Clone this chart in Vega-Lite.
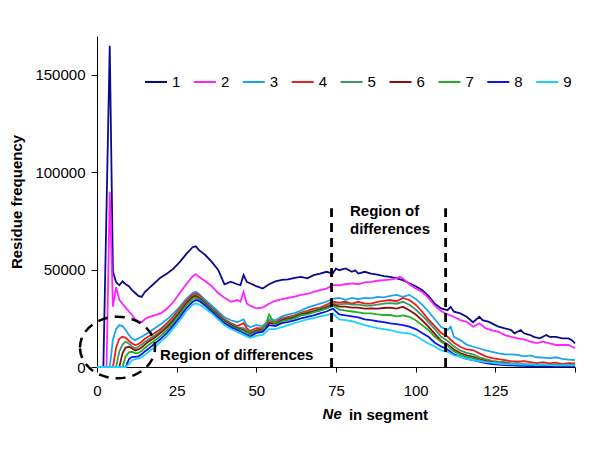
{
  "$schema": "https://vega.github.io/schema/vega-lite/v6.json",
  "width": 478,
  "height": 331,
  "autosize": {"type": "none"},
  "padding": {"left": 97, "top": 36, "right": 25, "bottom": 83},
  "background": "white",
  "config": {
    "view": {"stroke": null},
    "font": "Liberation Sans",
    "axis": {
      "grid": false,
      "domainColor": "black",
      "tickColor": "black",
      "labelColor": "black",
      "titleColor": "black",
      "labelFont": "Liberation Sans",
      "titleFont": "Liberation Sans",
      "labelFontSize": 15,
      "titleFontSize": 15,
      "titleFontWeight": "bold",
      "domainWidth": 1,
      "tickWidth": 1
    },
    "legend": {
      "labelFont": "Liberation Sans",
      "labelFontSize": 15,
      "labelColor": "black"
    }
  },
  "layer": [
    {
      "data": {
        "values": [
          {"s":"1","x":0,"y":0},{"s":"1","x":2,"y":0},{"s":"1","x":4,"y":165000},{"s":"1","x":5,"y":49000},{"s":"1","x":6,"y":43500},{"s":"1","x":7,"y":42000},{"s":"1","x":8,"y":44000},{"s":"1","x":9,"y":42500},{"s":"1","x":10,"y":41500},{"s":"1","x":11,"y":39500},{"s":"1","x":12,"y":38000},{"s":"1","x":13,"y":36500},{"s":"1","x":14,"y":36000},{"s":"1","x":15,"y":38500},{"s":"1","x":16,"y":40000},{"s":"1","x":18,"y":43000},{"s":"1","x":20,"y":46000},{"s":"1","x":22,"y":48000},{"s":"1","x":24,"y":50500},{"s":"1","x":26,"y":54000},{"s":"1","x":28,"y":58000},{"s":"1","x":30,"y":61500},{"s":"1","x":31,"y":62000},{"s":"1","x":32,"y":60000},{"s":"1","x":34,"y":57500},{"s":"1","x":36,"y":54000},{"s":"1","x":38,"y":50000},{"s":"1","x":40,"y":42500},{"s":"1","x":42,"y":43800},{"s":"1","x":44,"y":42500},{"s":"1","x":45,"y":42000},{"s":"1","x":46,"y":47200},{"s":"1","x":47,"y":43700},{"s":"1","x":48,"y":43000},{"s":"1","x":50,"y":41500},{"s":"1","x":52,"y":40300},{"s":"1","x":54,"y":42500},{"s":"1","x":56,"y":44000},{"s":"1","x":58,"y":44700},{"s":"1","x":60,"y":45000},{"s":"1","x":62,"y":45800},{"s":"1","x":64,"y":46300},{"s":"1","x":66,"y":45500},{"s":"1","x":68,"y":47200},{"s":"1","x":70,"y":48000},{"s":"1","x":72,"y":48900},{"s":"1","x":74,"y":48000},{"s":"1","x":75,"y":50600},{"s":"1","x":76,"y":49700},{"s":"1","x":78,"y":50600},{"s":"1","x":80,"y":48900},{"s":"1","x":81,"y":49700},{"s":"1","x":82,"y":48000},{"s":"1","x":84,"y":48900},{"s":"1","x":86,"y":48000},{"s":"1","x":88,"y":47500},{"s":"1","x":90,"y":46700},{"s":"1","x":92,"y":46300},{"s":"1","x":94,"y":45500},{"s":"1","x":96,"y":44600},{"s":"1","x":98,"y":43000},{"s":"1","x":100,"y":41500},{"s":"1","x":102,"y":39500},{"s":"1","x":104,"y":36500},{"s":"1","x":106,"y":32500},{"s":"1","x":108,"y":30100},{"s":"1","x":110,"y":29200},{"s":"1","x":111,"y":30900},{"s":"1","x":112,"y":28400},{"s":"1","x":114,"y":27500},{"s":"1","x":116,"y":25800},{"s":"1","x":118,"y":23000},{"s":"1","x":120,"y":25800},{"s":"1","x":121,"y":24100},{"s":"1","x":123,"y":23200},{"s":"1","x":125,"y":21500},{"s":"1","x":126,"y":20700},{"s":"1","x":128,"y":19800},{"s":"1","x":130,"y":19000},{"s":"1","x":131,"y":17300},{"s":"1","x":133,"y":19000},{"s":"1","x":134,"y":17300},{"s":"1","x":136,"y":16400},{"s":"1","x":137,"y":15500},{"s":"1","x":139,"y":14700},{"s":"1","x":141,"y":16400},{"s":"1","x":142,"y":15500},{"s":"1","x":144,"y":15500},{"s":"1","x":146,"y":14700},{"s":"1","x":148,"y":14700},{"s":"1","x":149,"y":13800},{"s":"1","x":150,"y":12100},
          {"s":"2","x":0,"y":0},{"s":"2","x":3,"y":0},{"s":"2","x":4,"y":90000},{"s":"2","x":5,"y":31000},{"s":"2","x":6,"y":41000},{"s":"2","x":7,"y":34500},{"s":"2","x":8,"y":32500},{"s":"2","x":9,"y":30500},{"s":"2","x":10,"y":28500},{"s":"2","x":11,"y":26700},{"s":"2","x":12,"y":24500},{"s":"2","x":13,"y":23500},{"s":"2","x":14,"y":23000},{"s":"2","x":15,"y":24500},{"s":"2","x":16,"y":25500},{"s":"2","x":18,"y":26500},{"s":"2","x":20,"y":27500},{"s":"2","x":22,"y":30000},{"s":"2","x":24,"y":33500},{"s":"2","x":26,"y":38000},{"s":"2","x":28,"y":42500},{"s":"2","x":30,"y":46500},{"s":"2","x":31,"y":47700},{"s":"2","x":32,"y":46300},{"s":"2","x":34,"y":44000},{"s":"2","x":36,"y":41500},{"s":"2","x":38,"y":38000},{"s":"2","x":40,"y":35500},{"s":"2","x":42,"y":33500},{"s":"2","x":44,"y":34400},{"s":"2","x":45,"y":33500},{"s":"2","x":46,"y":38600},{"s":"2","x":47,"y":32600},{"s":"2","x":48,"y":31500},{"s":"2","x":50,"y":30100},{"s":"2","x":52,"y":30500},{"s":"2","x":54,"y":32500},{"s":"2","x":56,"y":34000},{"s":"2","x":58,"y":34800},{"s":"2","x":60,"y":35500},{"s":"2","x":62,"y":36200},{"s":"2","x":64,"y":37000},{"s":"2","x":66,"y":37500},{"s":"2","x":68,"y":38600},{"s":"2","x":70,"y":39500},{"s":"2","x":72,"y":40300},{"s":"2","x":74,"y":42000},{"s":"2","x":76,"y":42000},{"s":"2","x":78,"y":42500},{"s":"2","x":80,"y":42900},{"s":"2","x":82,"y":42500},{"s":"2","x":84,"y":43500},{"s":"2","x":86,"y":43700},{"s":"2","x":88,"y":44300},{"s":"2","x":90,"y":44600},{"s":"2","x":92,"y":44900},{"s":"2","x":94,"y":45500},{"s":"2","x":95,"y":46300},{"s":"2","x":96,"y":45500},{"s":"2","x":98,"y":42500},{"s":"2","x":100,"y":40300},{"s":"2","x":102,"y":38600},{"s":"2","x":104,"y":35500},{"s":"2","x":106,"y":31500},{"s":"2","x":108,"y":28800},{"s":"2","x":110,"y":27000},{"s":"2","x":112,"y":25800},{"s":"2","x":114,"y":24100},{"s":"2","x":116,"y":23200},{"s":"2","x":118,"y":20700},{"s":"2","x":120,"y":22400},{"s":"2","x":122,"y":19800},{"s":"2","x":124,"y":18800},{"s":"2","x":126,"y":18100},{"s":"2","x":128,"y":16400},{"s":"2","x":130,"y":15500},{"s":"2","x":132,"y":14700},{"s":"2","x":134,"y":14200},{"s":"2","x":136,"y":13000},{"s":"2","x":138,"y":12300},{"s":"2","x":140,"y":13000},{"s":"2","x":142,"y":12100},{"s":"2","x":144,"y":11300},{"s":"2","x":146,"y":11300},{"s":"2","x":148,"y":11300},{"s":"2","x":150,"y":9600},
          {"s":"3","x":0,"y":0},{"s":"3","x":4,"y":0},{"s":"3","x":5,"y":14000},{"s":"3","x":6,"y":19500},{"s":"3","x":7,"y":21500},{"s":"3","x":8,"y":21000},{"s":"3","x":9,"y":19000},{"s":"3","x":10,"y":16500},{"s":"3","x":11,"y":14500},{"s":"3","x":12,"y":13800},{"s":"3","x":13,"y":14700},{"s":"3","x":14,"y":15500},{"s":"3","x":15,"y":16500},{"s":"3","x":16,"y":17500},{"s":"3","x":18,"y":19800},{"s":"3","x":20,"y":22000},{"s":"3","x":22,"y":24500},{"s":"3","x":24,"y":27500},{"s":"3","x":26,"y":31000},{"s":"3","x":28,"y":35000},{"s":"3","x":30,"y":38000},{"s":"3","x":31,"y":38600},{"s":"3","x":32,"y":37500},{"s":"3","x":34,"y":34500},{"s":"3","x":36,"y":31500},{"s":"3","x":38,"y":28500},{"s":"3","x":40,"y":25500},{"s":"3","x":42,"y":24000},{"s":"3","x":44,"y":23000},{"s":"3","x":46,"y":24500},{"s":"3","x":47,"y":21500},{"s":"3","x":48,"y":20500},{"s":"3","x":50,"y":21500},{"s":"3","x":52,"y":21000},{"s":"3","x":54,"y":24500},{"s":"3","x":56,"y":24000},{"s":"3","x":58,"y":26000},{"s":"3","x":60,"y":27000},{"s":"3","x":62,"y":27700},{"s":"3","x":64,"y":29000},{"s":"3","x":66,"y":30500},{"s":"3","x":68,"y":31500},{"s":"3","x":70,"y":32500},{"s":"3","x":72,"y":33500},{"s":"3","x":74,"y":35000},{"s":"3","x":76,"y":35500},{"s":"3","x":78,"y":34500},{"s":"3","x":80,"y":35500},{"s":"3","x":82,"y":34800},{"s":"3","x":84,"y":35500},{"s":"3","x":86,"y":35200},{"s":"3","x":88,"y":36000},{"s":"3","x":90,"y":35800},{"s":"3","x":92,"y":36500},{"s":"3","x":94,"y":37000},{"s":"3","x":96,"y":36000},{"s":"3","x":98,"y":37000},{"s":"3","x":100,"y":35000},{"s":"3","x":102,"y":32000},{"s":"3","x":104,"y":28500},{"s":"3","x":106,"y":24500},{"s":"3","x":108,"y":20500},{"s":"3","x":110,"y":19000},{"s":"3","x":111,"y":20700},{"s":"3","x":112,"y":15500},{"s":"3","x":114,"y":13800},{"s":"3","x":116,"y":11500},{"s":"3","x":118,"y":10400},{"s":"3","x":120,"y":9500},{"s":"3","x":122,"y":8500},{"s":"3","x":124,"y":7800},{"s":"3","x":126,"y":7000},{"s":"3","x":128,"y":6500},{"s":"3","x":130,"y":6500},{"s":"3","x":132,"y":6200},{"s":"3","x":134,"y":5500},{"s":"3","x":136,"y":6000},{"s":"3","x":138,"y":5000},{"s":"3","x":140,"y":4800},{"s":"3","x":142,"y":4400},{"s":"3","x":144,"y":5000},{"s":"3","x":146,"y":4200},{"s":"3","x":148,"y":3800},{"s":"3","x":150,"y":3600},
          {"s":"4","x":0,"y":0},{"s":"4","x":5,"y":0},{"s":"4","x":6,"y":10000},{"s":"4","x":7,"y":14500},{"s":"4","x":8,"y":15500},{"s":"4","x":9,"y":15000},{"s":"4","x":10,"y":13500},{"s":"4","x":11,"y":12100},{"s":"4","x":12,"y":11300},{"s":"4","x":13,"y":11800},{"s":"4","x":14,"y":13000},{"s":"4","x":15,"y":14500},{"s":"4","x":16,"y":15500},{"s":"4","x":18,"y":17300},{"s":"4","x":20,"y":19500},{"s":"4","x":22,"y":22500},{"s":"4","x":24,"y":26000},{"s":"4","x":26,"y":30000},{"s":"4","x":28,"y":34000},{"s":"4","x":30,"y":37200},{"s":"4","x":31,"y":37800},{"s":"4","x":32,"y":37000},{"s":"4","x":34,"y":33500},{"s":"4","x":36,"y":30500},{"s":"4","x":38,"y":27500},{"s":"4","x":40,"y":24500},{"s":"4","x":42,"y":22500},{"s":"4","x":44,"y":21000},{"s":"4","x":46,"y":22500},{"s":"4","x":47,"y":20000},{"s":"4","x":48,"y":18500},{"s":"4","x":50,"y":20000},{"s":"4","x":52,"y":20000},{"s":"4","x":54,"y":23500},{"s":"4","x":56,"y":23000},{"s":"4","x":58,"y":25000},{"s":"4","x":60,"y":25800},{"s":"4","x":62,"y":26500},{"s":"4","x":64,"y":28000},{"s":"4","x":66,"y":28800},{"s":"4","x":68,"y":30000},{"s":"4","x":70,"y":30500},{"s":"4","x":72,"y":32000},{"s":"4","x":74,"y":33500},{"s":"4","x":76,"y":33000},{"s":"4","x":78,"y":33500},{"s":"4","x":80,"y":32500},{"s":"4","x":82,"y":33500},{"s":"4","x":84,"y":32600},{"s":"4","x":86,"y":32600},{"s":"4","x":88,"y":33500},{"s":"4","x":90,"y":34000},{"s":"4","x":92,"y":34400},{"s":"4","x":94,"y":33800},{"s":"4","x":96,"y":35500},{"s":"4","x":98,"y":34400},{"s":"4","x":100,"y":32000},{"s":"4","x":102,"y":28500},{"s":"4","x":104,"y":24500},{"s":"4","x":106,"y":21000},{"s":"4","x":108,"y":17500},{"s":"4","x":110,"y":15500},{"s":"4","x":112,"y":12500},{"s":"4","x":114,"y":10400},{"s":"4","x":116,"y":9000},{"s":"4","x":118,"y":8700},{"s":"4","x":120,"y":7000},{"s":"4","x":122,"y":5500},{"s":"4","x":124,"y":4600},{"s":"4","x":126,"y":4000},{"s":"4","x":128,"y":3500},{"s":"4","x":130,"y":3000},{"s":"4","x":132,"y":2700},{"s":"4","x":134,"y":3000},{"s":"4","x":136,"y":2500},{"s":"4","x":138,"y":2000},{"s":"4","x":140,"y":2500},{"s":"4","x":142,"y":1900},{"s":"4","x":144,"y":2200},{"s":"4","x":146,"y":1500},{"s":"4","x":148,"y":2000},{"s":"4","x":150,"y":1900},
          {"s":"5","x":0,"y":0},{"s":"5","x":6,"y":0},{"s":"5","x":7,"y":8000},{"s":"5","x":8,"y":11500},{"s":"5","x":9,"y":13000},{"s":"5","x":10,"y":12000},{"s":"5","x":11,"y":10500},{"s":"5","x":12,"y":9600},{"s":"5","x":13,"y":10400},{"s":"5","x":14,"y":11500},{"s":"5","x":15,"y":12800},{"s":"5","x":16,"y":14000},{"s":"5","x":18,"y":16000},{"s":"5","x":20,"y":18500},{"s":"5","x":22,"y":21500},{"s":"5","x":24,"y":25000},{"s":"5","x":26,"y":29000},{"s":"5","x":28,"y":33000},{"s":"5","x":30,"y":36500},{"s":"5","x":31,"y":37000},{"s":"5","x":32,"y":36200},{"s":"5","x":34,"y":33000},{"s":"5","x":36,"y":30000},{"s":"5","x":38,"y":27000},{"s":"5","x":40,"y":24000},{"s":"5","x":42,"y":22000},{"s":"5","x":44,"y":20500},{"s":"5","x":46,"y":20000},{"s":"5","x":48,"y":17800},{"s":"5","x":50,"y":19000},{"s":"5","x":52,"y":19500},{"s":"5","x":54,"y":23000},{"s":"5","x":56,"y":22500},{"s":"5","x":58,"y":24500},{"s":"5","x":60,"y":25200},{"s":"5","x":62,"y":26000},{"s":"5","x":64,"y":27500},{"s":"5","x":66,"y":28200},{"s":"5","x":68,"y":29000},{"s":"5","x":70,"y":30000},{"s":"5","x":72,"y":31000},{"s":"5","x":74,"y":32500},{"s":"5","x":76,"y":32000},{"s":"5","x":78,"y":32500},{"s":"5","x":80,"y":32000},{"s":"5","x":82,"y":32000},{"s":"5","x":84,"y":31500},{"s":"5","x":86,"y":31500},{"s":"5","x":88,"y":32000},{"s":"5","x":90,"y":32600},{"s":"5","x":92,"y":32800},{"s":"5","x":94,"y":32500},{"s":"5","x":96,"y":33500},{"s":"5","x":98,"y":32000},{"s":"5","x":100,"y":29500},{"s":"5","x":102,"y":26500},{"s":"5","x":104,"y":23000},{"s":"5","x":106,"y":19500},{"s":"5","x":108,"y":15500},{"s":"5","x":110,"y":13500},{"s":"5","x":112,"y":10500},{"s":"5","x":114,"y":8500},{"s":"5","x":116,"y":7200},{"s":"5","x":118,"y":6500},{"s":"5","x":120,"y":5000},{"s":"5","x":122,"y":4000},{"s":"5","x":124,"y":3200},{"s":"5","x":126,"y":2800},{"s":"5","x":128,"y":2500},{"s":"5","x":130,"y":2000},{"s":"5","x":132,"y":1800},{"s":"5","x":134,"y":1500},{"s":"5","x":136,"y":1500},{"s":"5","x":138,"y":1200},{"s":"5","x":140,"y":1500},{"s":"5","x":142,"y":1000},{"s":"5","x":144,"y":1200},{"s":"5","x":146,"y":900},{"s":"5","x":148,"y":1100},{"s":"5","x":150,"y":1000},
          {"s":"6","x":0,"y":0},{"s":"6","x":7,"y":0},{"s":"6","x":8,"y":7000},{"s":"6","x":9,"y":10000},{"s":"6","x":10,"y":10400},{"s":"6","x":11,"y":9500},{"s":"6","x":12,"y":8500},{"s":"6","x":13,"y":9000},{"s":"6","x":14,"y":10000},{"s":"6","x":15,"y":11500},{"s":"6","x":16,"y":12800},{"s":"6","x":18,"y":15000},{"s":"6","x":20,"y":17500},{"s":"6","x":22,"y":20500},{"s":"6","x":24,"y":24000},{"s":"6","x":26,"y":28000},{"s":"6","x":28,"y":32500},{"s":"6","x":30,"y":36000},{"s":"6","x":31,"y":36500},{"s":"6","x":32,"y":35500},{"s":"6","x":34,"y":32500},{"s":"6","x":36,"y":29500},{"s":"6","x":38,"y":26500},{"s":"6","x":40,"y":23500},{"s":"6","x":42,"y":21500},{"s":"6","x":44,"y":20000},{"s":"6","x":46,"y":19000},{"s":"6","x":48,"y":17000},{"s":"6","x":50,"y":18500},{"s":"6","x":52,"y":19000},{"s":"6","x":54,"y":22500},{"s":"6","x":56,"y":22000},{"s":"6","x":58,"y":24000},{"s":"6","x":60,"y":24800},{"s":"6","x":62,"y":25500},{"s":"6","x":64,"y":27000},{"s":"6","x":66,"y":27700},{"s":"6","x":68,"y":28500},{"s":"6","x":70,"y":29500},{"s":"6","x":72,"y":30500},{"s":"6","x":74,"y":32000},{"s":"6","x":76,"y":31000},{"s":"6","x":78,"y":31000},{"s":"6","x":80,"y":30500},{"s":"6","x":82,"y":30500},{"s":"6","x":84,"y":30000},{"s":"6","x":86,"y":30100},{"s":"6","x":88,"y":30000},{"s":"6","x":90,"y":30300},{"s":"6","x":92,"y":30500},{"s":"6","x":94,"y":30000},{"s":"6","x":96,"y":31000},{"s":"6","x":98,"y":29200},{"s":"6","x":100,"y":27000},{"s":"6","x":102,"y":24000},{"s":"6","x":104,"y":20700},{"s":"6","x":106,"y":17000},{"s":"6","x":108,"y":13500},{"s":"6","x":110,"y":11500},{"s":"6","x":112,"y":9000},{"s":"6","x":114,"y":7200},{"s":"6","x":116,"y":6000},{"s":"6","x":118,"y":5200},{"s":"6","x":120,"y":4000},{"s":"6","x":122,"y":3200},{"s":"6","x":124,"y":2500},{"s":"6","x":126,"y":2000},{"s":"6","x":128,"y":1800},{"s":"6","x":130,"y":1500},{"s":"6","x":132,"y":1300},{"s":"6","x":134,"y":1200},{"s":"6","x":136,"y":1000},{"s":"6","x":138,"y":900},{"s":"6","x":140,"y":1100},{"s":"6","x":142,"y":800},{"s":"6","x":144,"y":900},{"s":"6","x":146,"y":700},{"s":"6","x":148,"y":800},{"s":"6","x":150,"y":700},
          {"s":"7","x":0,"y":0},{"s":"7","x":8,"y":0},{"s":"7","x":9,"y":5500},{"s":"7","x":10,"y":7500},{"s":"7","x":11,"y":7800},{"s":"7","x":12,"y":7000},{"s":"7","x":13,"y":7200},{"s":"7","x":14,"y":8200},{"s":"7","x":15,"y":9800},{"s":"7","x":16,"y":11000},{"s":"7","x":18,"y":13500},{"s":"7","x":20,"y":16000},{"s":"7","x":22,"y":19000},{"s":"7","x":24,"y":23000},{"s":"7","x":26,"y":27000},{"s":"7","x":28,"y":31500},{"s":"7","x":30,"y":35000},{"s":"7","x":31,"y":35500},{"s":"7","x":32,"y":34800},{"s":"7","x":34,"y":32000},{"s":"7","x":36,"y":29000},{"s":"7","x":38,"y":26000},{"s":"7","x":40,"y":23000},{"s":"7","x":42,"y":21000},{"s":"7","x":44,"y":19500},{"s":"7","x":46,"y":18500},{"s":"7","x":48,"y":16500},{"s":"7","x":50,"y":18000},{"s":"7","x":52,"y":18500},{"s":"7","x":53,"y":22000},{"s":"7","x":54,"y":27000},{"s":"7","x":56,"y":21500},{"s":"7","x":58,"y":23500},{"s":"7","x":60,"y":24200},{"s":"7","x":62,"y":25000},{"s":"7","x":64,"y":26500},{"s":"7","x":66,"y":27000},{"s":"7","x":68,"y":28000},{"s":"7","x":70,"y":29000},{"s":"7","x":72,"y":30000},{"s":"7","x":74,"y":31500},{"s":"7","x":76,"y":29500},{"s":"7","x":78,"y":29000},{"s":"7","x":80,"y":28500},{"s":"7","x":82,"y":28000},{"s":"7","x":84,"y":27500},{"s":"7","x":86,"y":27500},{"s":"7","x":88,"y":27000},{"s":"7","x":90,"y":26700},{"s":"7","x":92,"y":26700},{"s":"7","x":94,"y":26000},{"s":"7","x":96,"y":26500},{"s":"7","x":98,"y":25800},{"s":"7","x":100,"y":24000},{"s":"7","x":102,"y":21500},{"s":"7","x":104,"y":19000},{"s":"7","x":106,"y":15500},{"s":"7","x":108,"y":13000},{"s":"7","x":110,"y":11000},{"s":"7","x":112,"y":8000},{"s":"7","x":114,"y":6500},{"s":"7","x":116,"y":5200},{"s":"7","x":118,"y":4500},{"s":"7","x":120,"y":3500},{"s":"7","x":122,"y":2600},{"s":"7","x":124,"y":2000},{"s":"7","x":126,"y":1500},{"s":"7","x":128,"y":1300},{"s":"7","x":130,"y":1000},{"s":"7","x":132,"y":900},{"s":"7","x":134,"y":800},{"s":"7","x":136,"y":700},{"s":"7","x":138,"y":600},{"s":"7","x":140,"y":800},{"s":"7","x":142,"y":500},{"s":"7","x":144,"y":600},{"s":"7","x":146,"y":400},{"s":"7","x":148,"y":500},{"s":"7","x":150,"y":400},
          {"s":"8","x":0,"y":0},{"s":"8","x":9,"y":0},{"s":"8","x":10,"y":4000},{"s":"8","x":11,"y":5200},{"s":"8","x":12,"y":5200},{"s":"8","x":13,"y":5500},{"s":"8","x":14,"y":6500},{"s":"8","x":15,"y":8000},{"s":"8","x":16,"y":9200},{"s":"8","x":18,"y":11800},{"s":"8","x":20,"y":14500},{"s":"8","x":22,"y":17500},{"s":"8","x":24,"y":21500},{"s":"8","x":26,"y":25500},{"s":"8","x":28,"y":30000},{"s":"8","x":30,"y":33500},{"s":"8","x":31,"y":34400},{"s":"8","x":32,"y":34000},{"s":"8","x":34,"y":31500},{"s":"8","x":36,"y":28500},{"s":"8","x":38,"y":25500},{"s":"8","x":40,"y":22500},{"s":"8","x":42,"y":20500},{"s":"8","x":44,"y":19000},{"s":"8","x":46,"y":17500},{"s":"8","x":48,"y":15500},{"s":"8","x":50,"y":17500},{"s":"8","x":52,"y":18000},{"s":"8","x":54,"y":21500},{"s":"8","x":56,"y":21000},{"s":"8","x":58,"y":22500},{"s":"8","x":60,"y":23200},{"s":"8","x":62,"y":24000},{"s":"8","x":64,"y":25000},{"s":"8","x":66,"y":25800},{"s":"8","x":68,"y":26500},{"s":"8","x":70,"y":27500},{"s":"8","x":72,"y":28500},{"s":"8","x":74,"y":30000},{"s":"8","x":76,"y":27000},{"s":"8","x":78,"y":26500},{"s":"8","x":80,"y":26000},{"s":"8","x":82,"y":25500},{"s":"8","x":84,"y":24500},{"s":"8","x":86,"y":24100},{"s":"8","x":88,"y":23500},{"s":"8","x":90,"y":23000},{"s":"8","x":92,"y":22400},{"s":"8","x":94,"y":22000},{"s":"8","x":96,"y":21500},{"s":"8","x":98,"y":20700},{"s":"8","x":100,"y":19500},{"s":"8","x":102,"y":17500},{"s":"8","x":104,"y":15500},{"s":"8","x":106,"y":12500},{"s":"8","x":108,"y":10500},{"s":"8","x":110,"y":9000},{"s":"8","x":112,"y":6500},{"s":"8","x":114,"y":5300},{"s":"8","x":116,"y":4200},{"s":"8","x":118,"y":3500},{"s":"8","x":120,"y":2700},{"s":"8","x":122,"y":2000},{"s":"8","x":124,"y":1500},{"s":"8","x":126,"y":1200},{"s":"8","x":128,"y":1000},{"s":"8","x":130,"y":800},{"s":"8","x":132,"y":700},{"s":"8","x":134,"y":600},{"s":"8","x":136,"y":500},{"s":"8","x":138,"y":400},{"s":"8","x":140,"y":500},{"s":"8","x":142,"y":300},{"s":"8","x":144,"y":400},{"s":"8","x":146,"y":300},{"s":"8","x":148,"y":300},{"s":"8","x":150,"y":300},
          {"s":"9","x":0,"y":0},{"s":"9","x":9,"y":0},{"s":"9","x":10,"y":1500},{"s":"9","x":11,"y":3500},{"s":"9","x":12,"y":4000},{"s":"9","x":13,"y":4400},{"s":"9","x":14,"y":5000},{"s":"9","x":15,"y":6200},{"s":"9","x":16,"y":7500},{"s":"9","x":18,"y":10000},{"s":"9","x":20,"y":13000},{"s":"9","x":22,"y":16000},{"s":"9","x":24,"y":20000},{"s":"9","x":26,"y":24000},{"s":"9","x":28,"y":28500},{"s":"9","x":30,"y":32000},{"s":"9","x":31,"y":32600},{"s":"9","x":32,"y":32200},{"s":"9","x":34,"y":30000},{"s":"9","x":36,"y":27500},{"s":"9","x":38,"y":24500},{"s":"9","x":40,"y":21500},{"s":"9","x":42,"y":19500},{"s":"9","x":44,"y":18000},{"s":"9","x":46,"y":16500},{"s":"9","x":48,"y":15000},{"s":"9","x":50,"y":16000},{"s":"9","x":52,"y":16500},{"s":"9","x":54,"y":19500},{"s":"9","x":56,"y":19500},{"s":"9","x":58,"y":20500},{"s":"9","x":60,"y":21500},{"s":"9","x":62,"y":22600},{"s":"9","x":64,"y":23500},{"s":"9","x":66,"y":24500},{"s":"9","x":68,"y":25100},{"s":"9","x":70,"y":26000},{"s":"9","x":72,"y":26700},{"s":"9","x":74,"y":27500},{"s":"9","x":76,"y":24500},{"s":"9","x":78,"y":24100},{"s":"9","x":80,"y":23500},{"s":"9","x":82,"y":22500},{"s":"9","x":84,"y":21500},{"s":"9","x":86,"y":20700},{"s":"9","x":88,"y":20000},{"s":"9","x":90,"y":19500},{"s":"9","x":92,"y":19000},{"s":"9","x":94,"y":18000},{"s":"9","x":96,"y":17500},{"s":"9","x":98,"y":17300},{"s":"9","x":100,"y":16000},{"s":"9","x":102,"y":14000},{"s":"9","x":104,"y":12100},{"s":"9","x":106,"y":10500},{"s":"9","x":108,"y":8500},{"s":"9","x":110,"y":7800},{"s":"9","x":112,"y":6000},{"s":"9","x":114,"y":5300},{"s":"9","x":116,"y":4200},{"s":"9","x":118,"y":3600},{"s":"9","x":120,"y":3000},{"s":"9","x":122,"y":2500},{"s":"9","x":124,"y":2200},{"s":"9","x":126,"y":1800},{"s":"9","x":128,"y":1500},{"s":"9","x":130,"y":1500},{"s":"9","x":132,"y":1400},{"s":"9","x":134,"y":1200},{"s":"9","x":136,"y":1300},{"s":"9","x":138,"y":1000},{"s":"9","x":140,"y":1200},{"s":"9","x":142,"y":1000},{"s":"9","x":144,"y":900},{"s":"9","x":146,"y":800},{"s":"9","x":148,"y":900},{"s":"9","x":150,"y":800}
        ]
      },
      "mark": {"type": "line", "strokeWidth": 1.8},
      "encoding": {
        "x": {
          "field": "x", "type": "quantitative",
          "scale": {"domain": [0, 150], "nice": false, "zero": false},
          "axis": {
            "values": [0, 25, 50, 75, 100, 125, 150],
            "labelExpr": "datum.value == 150 ? '' : datum.label",
            "tickSize": 5, "labelPadding": 11, "labelFlush": false,
            "title": "in segment",
            "titleX": 291, "titleY": 52, "titleAlign": "center", "titleBaseline": "alphabetic"
          }
        },
        "y": {
          "field": "y", "type": "quantitative",
          "scale": {"domain": [0, 170000], "nice": false},
          "axis": {
            "values": [0, 50000, 100000, 150000],
            "format": "d",
            "tickSize": 6, "labelPadding": 6,
            "title": "Residue frequency",
            "titlePadding": 10
          }
        },
        "color": {
          "field": "s", "type": "nominal",
          "scale": {
            "domain": ["1","2","3","4","5","6","7","8","9"],
            "range": ["#0A0A8C","#FF22FF","#1AA6EE","#EE1C1C","#3A9A62","#8E0E0E","#22B022","#0A14F0","#1AD2FF"]
          },
          "legend": {
            "title": null,
            "orient": "none",
            "direction": "horizontal",
            "columns": 9,
            "legendX": 47,
            "legendY": 34,
            "symbolType": "stroke",
            "symbolSize": 484,
            "symbolStrokeWidth": 2,
            "labelOffset": 4,
            "columnPadding": 8.9,
            "padding": 0
          }
        }
      }
    },
    {
      "data": {"values": [{"boundary": 73.6}, {"boundary": 109.4}]},
      "mark": {"type": "rule", "color": "black", "strokeWidth": 2.8, "strokeDash": [9, 6]},
      "encoding": {
        "x": {"field": "boundary", "type": "quantitative"},
        "y": {"datum": 0, "type": "quantitative"},
        "y2": {"datum": 81500}
      }
    },
    {
      "data": {"values": [{}]},
      "mark": {"type": "text", "text": ["Region of", "differences"], "align": "left", "baseline": "alphabetic", "fontSize": 15, "fontWeight": "bold", "lineHeight": 18, "font": "Liberation Sans", "color": "black"},
      "encoding": {
        "x": {"datum": 79.4, "type": "quantitative"},
        "y": {"datum": 77400, "type": "quantitative"}
      }
    },
    {
      "data": {"values": [{}]},
      "mark": {"type": "text", "text": "Region of differences", "align": "left", "baseline": "alphabetic", "fontSize": 15, "fontWeight": "bold", "font": "Liberation Sans", "color": "black"},
      "encoding": {
        "x": {"datum": 19.8, "type": "quantitative"},
        "y": {"datum": 3600, "type": "quantitative"}
      }
    },
    {
      "data": {"values": [{}]},
      "mark": {"type": "point", "shape": "M -1.218 0 A 1.218 1 0 1 1 1.218 0 A 1.218 1 0 1 1 -1.218 0 Z", "size": 3795, "filled": false, "stroke": "black", "strokeWidth": 2.5, "strokeDash": [10, 7], "opacity": 1},
      "encoding": {
        "x": {"datum": 6.43, "type": "quantitative"},
        "y": {"datum": 10000, "type": "quantitative"}
      }
    },
    {
      "data": {"values": [{}]},
      "mark": {"type": "text", "text": "Ne", "align": "right", "baseline": "alphabetic", "fontSize": 15, "fontWeight": "bold", "fontStyle": "italic", "font": "Liberation Sans", "color": "black"},
      "encoding": {
        "x": {"datum": 76.8, "type": "quantitative"},
        "y": {"datum": -26700, "type": "quantitative"}
      }
    }
  ]
}
